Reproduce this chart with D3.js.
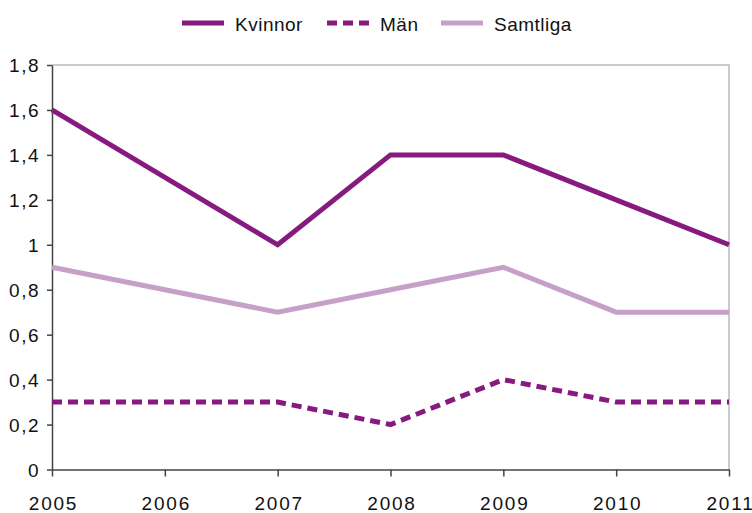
<!DOCTYPE html>
<html>
<head>
<meta charset="utf-8">
<script src="https://cdn.jsdelivr.net/npm/d3@7"></script>
<style>
  body { margin: 0; background: white; }
  text { font-family: "Liberation Sans", Arial, sans-serif; fill: #111; }
</style>
</head>
<body>
<svg width="752" height="513"></svg>
<script>
const years = [2005, 2007, 2008, 2009, 2010, 2011];
const kvinnor = [1.6, 1.0, 1.4, 1.4, 1.2, 1.0];
const man = [0.3, 0.3, 0.2, 0.4, 0.3, 0.3];
const samtliga = [0.9, 0.7, 0.8, 0.9, 0.7, 0.7];
const xTicks = [2005, 2006, 2007, 2008, 2009, 2010, 2011];
const yTicks = [0, 0.2, 0.4, 0.6, 0.8, 1, 1.2, 1.4, 1.6, 1.8];

const svg = d3.select('svg');
const plotLeft = 52, plotRight = 729, plotTop = 65, plotBottom = 469.5;

const x = d3.scaleLinear().domain([2005, 2011]).range([plotLeft, plotRight]);
const y = d3.scaleLinear().domain([0, 1.8]).range([plotBottom, plotTop]);

const fmt = d => d3.format('.1f')(d).replace('.', ',').replace(',0', '');

// frame (top + right)
svg.append('path')
  .attr('d', `M${plotLeft},${plotTop}H${plotRight}V${plotBottom}`)
  .attr('fill', 'none')
  .attr('stroke', '#b4bcc0')
  .attr('stroke-width', 1.5);

const xAxis = svg.append('g')
  .attr('transform', `translate(0,${plotBottom})`)
  .call(d3.axisBottom(x).tickValues(xTicks).tickFormat(d3.format('d')).tickSize(7).tickSizeOuter(0));
xAxis.select('.domain').attr('stroke', '#444').attr('stroke-width', 1.5);
xAxis.selectAll('line').attr('stroke', '#444').attr('stroke-width', 1.5);
xAxis.selectAll('text').attr('font-size', 19).attr('y', 40).attr('dy', 0).attr('dx', 1)
  .attr('letter-spacing', 1.8)
  .attr('font-family', '"Liberation Sans", Arial, sans-serif').attr('fill', '#111');

const yAxis = svg.append('g')
  .attr('transform', `translate(${plotLeft},0)`)
  .call(d3.axisLeft(y).tickValues(yTicks).tickFormat(fmt).tickSize(5).tickSizeOuter(0));
yAxis.select('.domain').attr('stroke', '#444').attr('stroke-width', 1.5);
yAxis.selectAll('line').attr('stroke', '#444').attr('stroke-width', 1.5);
yAxis.selectAll('text').attr('font-size', 19).attr('x', -12).attr('dy', '0.35em')
  .attr('letter-spacing', 1.5)
  .attr('font-family', '"Liberation Sans", Arial, sans-serif').attr('fill', '#111');

const dark = '#861a7f', light = '#c7a0c8';
const series = [
  { name: 'Kvinnor', values: kvinnor, color: dark, dash: null },
  { name: 'Män', values: man, color: dark, dash: '10,6' },
  { name: 'Samtliga', values: samtliga, color: light, dash: null }
];

const line = d3.line().x((d, i) => x(years[i])).y(d => y(d));

// draw Samtliga first so dark lines sit on top
[series[2], series[1], series[0]].forEach(s => {
  svg.append('path')
    .attr('d', line(s.values))
    .attr('fill', 'none')
    .attr('stroke', s.color)
    .attr('stroke-width', 5)
    .attr('stroke-dasharray', s.dash);
});

// legend
const legendX = [182, 327, 441];
const legend = svg.append('g');
series.forEach((s, i) => {
  legend.append('line')
    .attr('x1', legendX[i]).attr('x2', legendX[i] + 42)
    .attr('y1', 23).attr('y2', 23)
    .attr('stroke', s.color).attr('stroke-width', 5)
    .attr('stroke-dasharray', s.dash);
  legend.append('text')
    .attr('x', legendX[i] + 53).attr('y', 31)
    .attr('font-size', 19)
    .attr('letter-spacing', 0.5)
    .text(s.name);
});
</script>
</body>
</html>
